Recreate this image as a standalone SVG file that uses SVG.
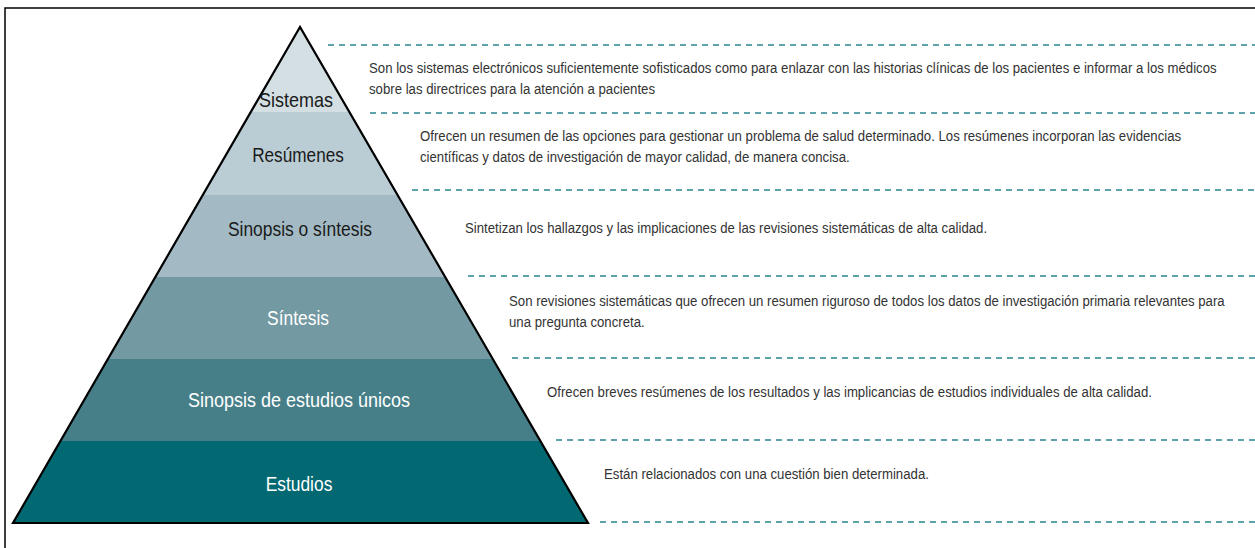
<svg xmlns="http://www.w3.org/2000/svg" width="1255" height="548" viewBox="0 0 1255 548">
<style>
.lbl{font-family:"Liberation Sans","DejaVu Sans",sans-serif;font-size:20px;text-anchor:middle}
.dark{fill:#1a1a1a}
.light{fill:#ffffff}
.desc{font-family:"Liberation Sans","DejaVu Sans",sans-serif;font-size:14.5px;fill:#333333}
.dash{stroke:#2a8590;stroke-width:1.4;stroke-dasharray:6 5;fill:none}
</style>
<defs>
<clipPath id="tri"><polygon points="300,27 13,523 588,523"/></clipPath>
</defs>
<rect x="0" y="0" width="1255" height="548" fill="#ffffff"/>
<path d="M5,548 V8 H1255" fill="none" stroke="#000000" stroke-width="1.5"/>
<g id="pyramid">
<g clip-path="url(#tri)">
<rect id="band-sistemas" x="0" y="20" width="600" height="92" fill="#d3dfe3"/>
<rect id="band-resumenes" x="0" y="112" width="600" height="83" fill="#bacdd4"/>
<rect id="band-sinopsis" x="0" y="195" width="600" height="82" fill="#a3bac4"/>
<rect id="band-sintesis" x="0" y="277" width="600" height="82" fill="#7399a2"/>
<rect id="band-sinopsis-estudios" x="0" y="359" width="600" height="82" fill="#477f89"/>
<rect id="band-estudios" x="0" y="441" width="600" height="90" fill="#026872"/>
</g>
<polygon points="300,27 13,523 588,523" fill="none" stroke="#000000" stroke-width="2.2" stroke-linejoin="miter"/>
</g>
<g id="level-sistemas">
<text class="lbl dark" transform="translate(296 107) scale(0.9 1)">Sistemas</text>
<text class="desc" transform="translate(369 73) scale(0.91 1)">Son los sistemas electrónicos suficientemente sofisticados como para enlazar con las historias clínicas de los pacientes e informar a los médicos</text>
<text class="desc" transform="translate(369 94) scale(0.91 1)">sobre las directrices para la atención a pacientes</text>
</g>
<g id="level-resumenes">
<text class="lbl dark" transform="translate(298 162) scale(0.86 1)">Resúmenes</text>
<text class="desc" transform="translate(420 141) scale(0.91 1)">Ofrecen un resumen de las opciones para gestionar un problema de salud determinado. Los resúmenes incorporan las evidencias</text>
<text class="desc" transform="translate(420 162) scale(0.91 1)">científicas y datos de investigación de mayor calidad, de manera concisa.</text>
</g>
<g id="level-sinopsis">
<text class="lbl dark" transform="translate(300 236) scale(0.87 1)">Sinopsis o síntesis</text>
<text class="desc" transform="translate(465 233) scale(0.91 1)">Sintetizan los hallazgos y las implicaciones de las revisiones sistemáticas de alta calidad.</text>
</g>
<g id="level-sintesis">
<text class="lbl light" transform="translate(298 325) scale(0.87 1)">Síntesis</text>
<text class="desc" transform="translate(509 306) scale(0.91 1)">Son revisiones sistemáticas que ofrecen un resumen riguroso de todos los datos de investigación primaria relevantes para</text>
<text class="desc" transform="translate(509 327) scale(0.91 1)">una pregunta concreta.</text>
</g>
<g id="level-sinopsis-estudios">
<text class="lbl light" transform="translate(299 407) scale(0.9 1)">Sinopsis de estudios únicos</text>
<text class="desc" transform="translate(547 397) scale(0.91 1)">Ofrecen breves resúmenes de los resultados y las implicancias de estudios individuales de alta calidad.</text>
</g>
<g id="level-estudios">
<text class="lbl light" transform="translate(299 491) scale(0.87 1)">Estudios</text>
<text class="desc" transform="translate(604 479) scale(0.91 1)">Están relacionados con una cuestión bien determinada.</text>
</g>
<g id="connectors">
<line class="dash" x1="328" y1="45" x2="1255" y2="45"/>
<line class="dash" x1="370" y1="113" x2="1255" y2="113"/>
<line class="dash" x1="412" y1="190" x2="1255" y2="190"/>
<line class="dash" x1="468" y1="276" x2="1255" y2="276"/>
<line class="dash" x1="512" y1="358" x2="1255" y2="358"/>
<line class="dash" x1="556" y1="440" x2="1255" y2="440"/>
<line class="dash" x1="600" y1="522" x2="1255" y2="522"/>
</g>
</svg>
